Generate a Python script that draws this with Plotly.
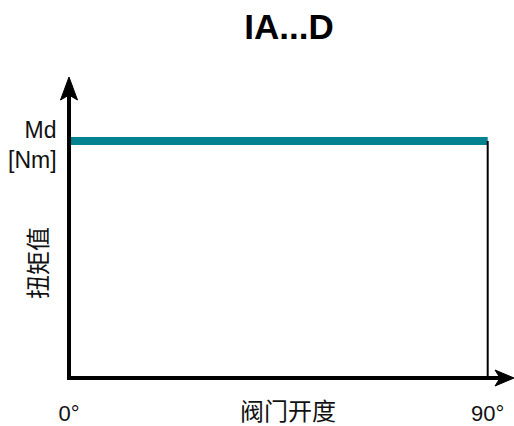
import plotly.graph_objects as go

# ---- data ----
opening = [0, 90]            # valve opening, degrees
torque = [1, 1]              # relative torque (constant)
end_x = [90, 90]
end_y = [0, 1]
tick_vals = [0, 90]
tick_text = ["0°", "90°"]
title_text = "IA...D"
x_label = "阀门开度"
y_label = "扭矩值"
unit_label = "Md<br>[Nm]"

W, H = 514, 426
# target pixels: x=0 at 69, x=92 at 497, plot top 78, y=0 at 378
L_pg, R_pg, T_pg, B_pg = 69, 497, 78, 378
L = L_pg
T = T_pg
PW = R_pg - L_pg
PH = B_pg - T_pg
R = W - L - PW
B = H - T - PH

def px(x):
    return (x - L_pg) / PW

def py(y):
    return (B_pg - y) / PH

FONT = "Liberation Sans, Arial, Noto Sans CJK SC, sans-serif"
TEAL = "#00838F"

fig = go.Figure()
fig.add_trace(go.Scatter(x=opening, y=torque, mode="lines",
                         line=dict(color=TEAL, width=8), hoverinfo="skip"))
fig.add_trace(go.Scatter(x=end_x, y=end_y, mode="lines",
                         line=dict(color="black", width=2), hoverinfo="skip"))

shapes = []
# y axis line
shapes.append(dict(type="line", xref="paper", yref="paper",
                   x0=px(69), y0=py(380), x1=px(69), y1=py(92),
                   line=dict(color="black", width=4), layer="above"))
# y arrow head
shapes.append(dict(type="path", xref="paper", yref="paper",
                   path=f"M {px(69)} {py(77)} L {px(60.5)} {py(100)} L {px(69)} {py(95)} L {px(77.5)} {py(100)} Z",
                   fillcolor="black", line=dict(color="black", width=1), layer="above"))
# x axis line
shapes.append(dict(type="line", xref="paper", yref="paper",
                   x0=px(67), y0=py(378), x1=px(500), y1=py(378),
                   line=dict(color="black", width=4), layer="above"))
# x arrow head
shapes.append(dict(type="path", xref="paper", yref="paper",
                   path=f"M {px(514)} {py(378)} L {px(495)} {py(370)} L {px(500)} {py(378)} L {px(495)} {py(386)} Z",
                   fillcolor="black", line=dict(color="black", width=1), layer="above"))

annotations = [
    dict(text=unit_label, xref="paper", yref="paper", x=px(59), y=py(145),
         xanchor="right", yanchor="middle", align="right", showarrow=False,
         font=dict(size=23, color="#111", family=FONT)),
    dict(text=y_label, xref="paper", yref="paper", x=px(38), y=py(263),
         xanchor="center", yanchor="middle", textangle=-90, showarrow=False,
         font=dict(size=24, color="#111", family=FONT)),
    dict(text=x_label, xref="paper", yref="paper", x=px(288), y=py(411),
         xanchor="center", yanchor="middle", showarrow=False,
         font=dict(size=24, color="#111", family=FONT)),
]

fig.update_layout(
    width=W, height=H,
    margin=dict(l=L, r=R, t=T, b=B, autoexpand=False),
    paper_bgcolor="white", plot_bgcolor="white",
    showlegend=False,
    title=dict(text=f"<b>{title_text}</b>", x=289 / W, xref="container", xanchor="center",
               y=1 - 27 / H, yref="container", yanchor="middle",
               font=dict(size=35, color="black", family=FONT)),
    xaxis=dict(range=[0, 92], showgrid=False, zeroline=False, showline=False,
               tickvals=tick_vals, ticktext=tick_text, ticks="",
               ticklabelstandoff=20, automargin=False,
               tickfont=dict(size=22, color="#111", family=FONT), fixedrange=True),
    yaxis=dict(range=[0, 1.266], showgrid=False, zeroline=False, showline=False,
               showticklabels=False, ticks="", automargin=False, fixedrange=True),
    shapes=shapes,
    annotations=annotations,
)

fig.write_html("out.html", config={"displayModeBar": False, "staticPlot": True},
               post_script="document.body.style.margin='0';document.body.style.overflow='hidden';")
